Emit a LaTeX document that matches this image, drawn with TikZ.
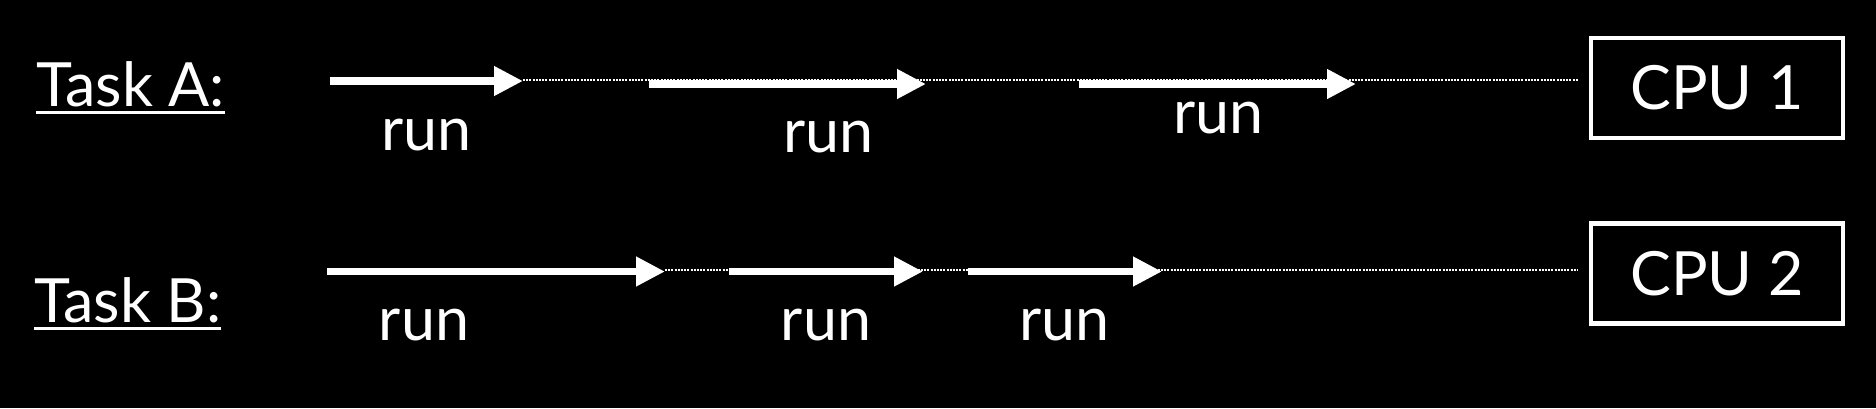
\documentclass[tikz,border=0pt]{standalone}
\usepackage{fontspec}
\setmainfont{Lato}
\usetikzlibrary{arrows.meta}
\begin{document}
\begin{tikzpicture}[x=1pt,y=-1pt,
  every node/.style={text=white, inner sep=0pt, font=\fontsize{61}{70}\selectfont},
  runarrow/.style={draw=white, line width=7.5pt, -{Triangle[length=29pt,width=28pt]}},
  idle/.style={draw=white, line width=2.6pt, dash pattern=on 2pt off 1.2pt},
  ulline/.style={draw=white, line width=3pt},
  cpubox/.style={draw=white, line width=4.5pt, minimum width=252pt, minimum height=100pt},
  runlabel/.style={anchor=base},
  tasklabel/.style={anchor=base west}]
\fill[black] (0,0) rectangle (1876,408);

% labels
\node[tasklabel] (taskA) at (36,106.5) {Task A:};
\node[tasklabel] (taskB) at (34,322) {Task B:};
\draw[ulline] ([yshift=-6pt]taskA.base west) -- ([yshift=-6pt]taskA.base east);
\draw[ulline] ([yshift=-6.5pt]taskB.base west) -- ([yshift=-6.5pt]taskB.base east);

% CPUs
\node[cpubox] (cpu1) at (1717,88) {CPU 1};
\node[cpubox] (cpu2) at (1717,273.5) {CPU 2};

% Row A coordinates
\coordinate (a1s) at (330,81);
\coordinate (a1e) at (523,81);
\coordinate (a2s) at (649,84);
\coordinate (a2e) at (926,84);
\coordinate (a3s) at (1079,84);
\coordinate (a3e) at (1356,84);
\coordinate (adots) at (523,80);
\coordinate (adote) at (1578,80);

% Row B coordinates
\coordinate (b1s) at (327,271.5);
\coordinate (b1e) at (665,271.5);
\coordinate (b2s) at (729,271.5);
\coordinate (b2e) at (923,271.5);
\coordinate (b3s) at (968,271.5);
\coordinate (b3e) at (1162,271.5);
\coordinate (bdots) at (665,270);
\coordinate (bdote) at (1578,270);

% idle (dotted) lines
\draw[idle] (adots) -- (adote);
\draw[idle] (bdots) -- (bdote);

% run arrows
\draw[runarrow] (a1s) -- (a1e);
\draw[runarrow] (a2s) -- (a2e);
\draw[runarrow] (a3s) -- (a3e);
\draw[runarrow] (b1s) -- (b1e);
\draw[runarrow] (b2s) -- (b2e);
\draw[runarrow] (b3s) -- (b3e);

% run labels
\node[runlabel] (ra1) at (426.5,150) {run};
\node[runlabel] (ra2) at (828.5,152) {run};
\node[runlabel] (ra3) at (1218.5,133) {run};
\node[runlabel] (rb1) at (424,340) {run};
\node[runlabel] (rb2) at (826,340) {run};
\node[runlabel] (rb3) at (1064.5,340) {run};
\end{tikzpicture}
\end{document}
